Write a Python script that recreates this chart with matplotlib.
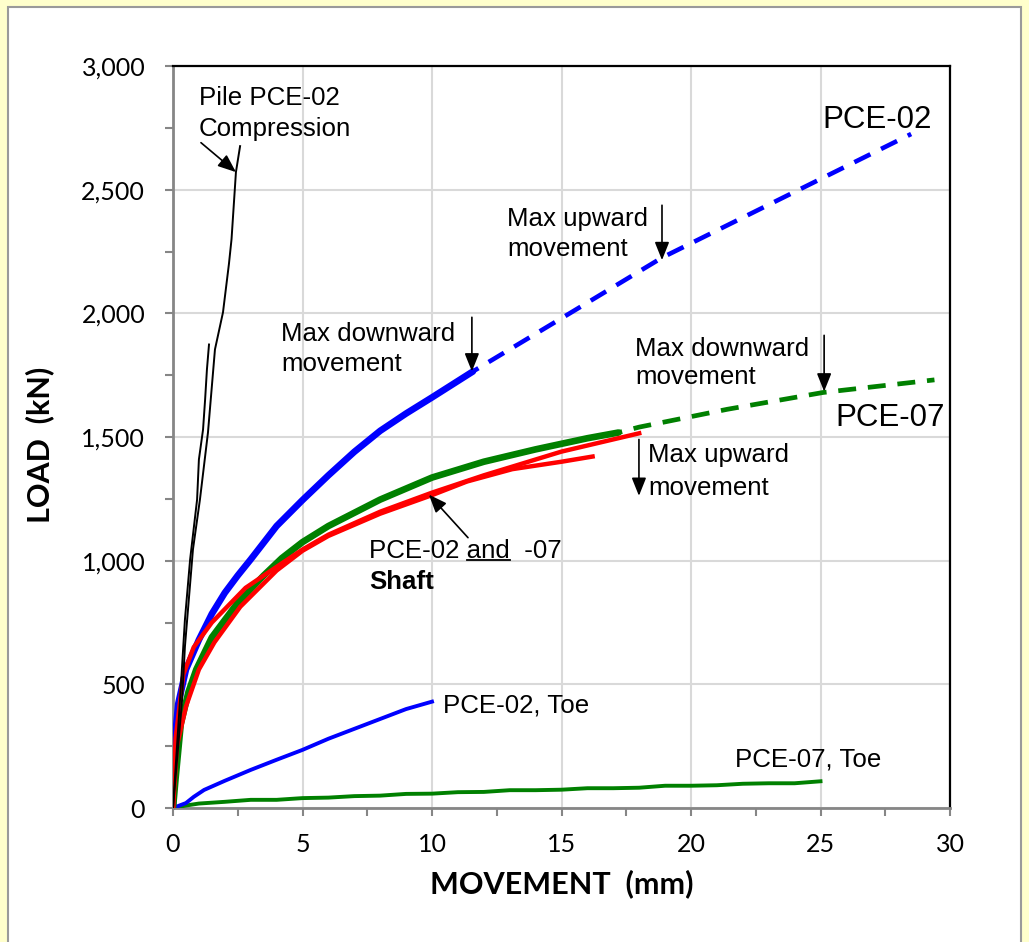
import matplotlib
matplotlib.use("Agg")
import matplotlib.pyplot as plt
from matplotlib.patches import Rectangle
from matplotlib.lines import Line2D
from matplotlib.ticker import MultipleLocator, FuncFormatter

# ---- measured load-movement data (movement in mm, load in kN) ----
# Pile PCE-02 compression test: two traces
comp_a_mm = [0, 0.35, 0.46, 0.77, 1.04, 1.35, 1.62, 1.93, 2.16, 2.26, 2.43, 2.59]
comp_a_kn = [0, 437, 652, 1045, 1247, 1518, 1854, 2004, 2200, 2300, 2571, 2676]
comp_b_mm = [0, 0.27, 0.46, 0.66, 0.93, 1.0, 1.16, 1.24, 1.31, 1.39]
comp_b_kn = [0, 437, 761, 1004, 1247, 1409, 1530, 1652, 1773, 1874]

# PCE-02 shaft (measured part, then extrapolated part)
pce02_mm = [0, 0.05, 0.2, 0.5, 1.0, 1.5, 2.0, 2.5, 3.0, 4.0, 5.0, 6.0, 7.0, 8.0, 9.0, 10.0, 11.58]
pce02_kn = [0, 250, 420, 560, 680, 785, 870, 940, 1005, 1140, 1245, 1345, 1440, 1525, 1595, 1660, 1765]
pce02_ext_mm = [11.58, 15.0, 18.88, 25.0, 28.5]
pce02_ext_kn = [1765, 1980, 2225, 2543, 2725]

# PCE-07 shaft (measured part, then extrapolated part)
pce07_mm = [0, 0.1, 0.3, 0.6, 0.9, 1.5, 2.5, 3.5, 4.2, 5.0, 6.0, 8.0, 10.0, 12.0, 14.0, 16.0, 17.2]
pce07_kn = [0, 120, 340, 470, 560, 690, 830, 940, 1010, 1075, 1140, 1247, 1336, 1400, 1450, 1495, 1518]
pce07_ext_mm = [17.2, 18.0, 21.4, 25.1, 29.4]
pce07_ext_kn = [1518, 1540, 1612, 1680, 1731]

# Shaft traces for PCE-02 and -07 (red)
shaft_a_mm = [0, 0.1, 0.4, 0.8, 1.5, 2.8, 4.0, 5.0, 6.0, 8.0, 10.0, 12.0, 15.0, 18.0]
shaft_a_kn = [0, 280, 540, 650, 750, 890, 975, 1045, 1105, 1198, 1275, 1345, 1441, 1515]
shaft_b_mm = [0, 0.15, 0.5, 1.0, 1.6, 2.6, 4.0, 5.0, 6.0, 8.0, 10.0, 11.35, 13.1, 15.0, 16.2]
shaft_b_kn = [0, 250, 410, 560, 670, 814, 960, 1040, 1100, 1190, 1265, 1320, 1370, 1400, 1421]

# Toe responses
toe02_mm = [0, 0.5, 0.8, 1.2, 2, 3, 4, 5, 6, 7, 8, 9, 10]
toe02_kn = [0, 20, 45, 73, 110, 154, 195, 235, 280, 320, 360, 400, 430]
toe07_mm = [0, 0.5, 1, 2, 3, 4, 5, 6, 7, 8, 9, 10, 11, 12, 13, 14, 15, 16, 17, 18,
            19, 20, 21, 22, 23, 24, 25]
toe07_kn = [0, 10, 18, 25, 33, 33, 40, 42, 48, 50, 57, 58, 64, 65, 72, 72, 74, 80, 80, 82,
            90, 90, 92, 98, 100, 100, 108]

x_ticks = [0, 5, 10, 15, 20, 25, 30]
y_ticks = [0, 500, 1000, 1500, 2000, 2500, 3000]

W, H = 1029, 942
fig = plt.figure(figsize=(W / 100, H / 100), dpi=100, facecolor="#FFFFCC")

# white panel with grey frame
fig.add_artist(Rectangle((8 / W, -0.05), (1021 - 8) / W, (H - 7) / H + 0.05,
                         transform=fig.transFigure, facecolor="white",
                         edgecolor="#9A9A9A", lw=1.5, zorder=-5))

ax = fig.add_axes([173 / W, (H - 808) / H, (950 - 173) / W, (808 - 66) / H])
ax.set_xlim(0, 30)
ax.set_ylim(0, 3000)

BLUE, GREEN, RED = "#0000FF", "#008000", "#FF0000"

ax.plot(toe07_mm, toe07_kn, color=GREEN, lw=2.8, zorder=3)
ax.plot(toe02_mm, toe02_kn, color=BLUE, lw=2.8, zorder=3)
ax.plot(pce02_mm, pce02_kn, color=BLUE, lw=4.8, zorder=3, solid_capstyle="round",
        solid_joinstyle="round")
ax.plot(pce02_ext_mm, pce02_ext_kn, color=BLUE, lw=3.3, zorder=3,
        linestyle=(2.5, (3.9, 2.6)))
ax.plot(pce07_mm, pce07_kn, color=GREEN, lw=4.8, zorder=3, solid_capstyle="round",
        solid_joinstyle="round")
ax.plot(pce07_ext_mm, pce07_ext_kn, color=GREEN, lw=3.4, zorder=3,
        linestyle=(3.0, (3.8, 2.5)))
ax.plot(shaft_b_mm, shaft_b_kn, color=RED, lw=3.2, zorder=4, solid_joinstyle="round")
ax.plot(shaft_a_mm, shaft_a_kn, color=RED, lw=3.2, zorder=4, solid_joinstyle="round")
ax.plot(comp_a_mm, comp_a_kn, color="black", lw=1.4, zorder=5)
ax.plot(comp_b_mm, comp_b_kn, color="black", lw=1.4, zorder=5)

# axes styling
ax.xaxis.set_minor_locator(MultipleLocator(2.5))
ax.yaxis.set_minor_locator(MultipleLocator(250))
ax.set_xticks(x_ticks)
ax.set_yticks(y_ticks)
ax.yaxis.set_major_formatter(FuncFormatter(lambda v, p: f"{int(v):,}"))
ax.grid(True, which="major", color="#D9D9D9", lw=1.5, zorder=0)
ax.set_axisbelow(True)
for side in ("left", "bottom"):
    ax.spines[side].set_color("#868686")
    ax.spines[side].set_linewidth(2.0)
for side in ("top", "right"):
    ax.spines[side].set_color("black")
    ax.spines[side].set_linewidth(1.6)
ax.tick_params(which="both", direction="out", length=6, width=1.5, color="#868686")
ax.tick_params(which="major", labelsize=18, labelcolor="black")
ax.tick_params(axis="x", which="major", pad=12)
ax.tick_params(axis="y", which="major", pad=14)
for lab in ax.get_xticklabels() + ax.get_yticklabels():
    lab.set_family("Lato")

fig.text(562 / W, 1 - 884 / H, "MOVEMENT  (mm)", ha="center", va="center",
         family="Lato", weight="bold", fontsize=22)
fig.text(40 / W, 1 - 445 / H, "LOAD  (kN)", ha="center", va="center",
         rotation=90, family="Lato", weight="bold", fontsize=22)

# ---- annotations ----
TXT = dict(family="Liberation Sans", fontsize=18.6, color="black", va="baseline", zorder=6)
BIG = dict(family="Liberation Sans", fontsize=22.5, color="black", va="baseline", zorder=6)
ARROW = dict(arrowstyle="-|>,head_length=0.55,head_width=0.22", color="black",
             lw=1.2, shrinkA=0, shrinkB=0, mutation_scale=20)


def arrow(x0, y0, x1, y1):
    ax.annotate("", xy=(x1, y1), xytext=(x0, y0), arrowprops=ARROW, zorder=7)


ax.text(1.0, 2842, "Pile PCE-02", **TXT)
ax.text(1.0, 2717, "Compression", **TXT)
arrow(1.08, 2690, 2.43, 2571)

ax.text(4.17, 1887, "Max downward", **TXT)
ax.text(4.17, 1765, "movement", **TXT)
arrow(11.54, 1984, 11.54, 1765)

ax.text(12.9, 2352, "Max upward", **TXT)
ax.text(12.9, 2231, "movement", **TXT)
arrow(18.88, 2437, 18.88, 2215)

ax.text(25.06, 2749, "PCE-02", **BIG)

ax.text(17.84, 1826, "Max downward", **TXT)
ax.text(17.84, 1713, "movement", **TXT)
arrow(25.14, 1911, 25.14, 1684)

ax.text(25.56, 1543, "PCE-07", **BIG)

ax.text(18.34, 1397, "Max upward", **TXT)
ax.text(18.34, 1267, "movement", **TXT)
arrow(17.99, 1490, 17.99, 1262)

shaft_x, shaft_y = 7.57, 1012
ax.text(shaft_x, shaft_y, "PCE-02 and  -07", **TXT)
ax.text(shaft_x, 887, "Shaft", weight="bold", **TXT)
arrow(11.39, 1093, 9.88, 1267)

ax.text(10.42, 385, "PCE-02, Toe", **TXT)
ax.text(21.7, 166, "PCE-07, Toe", **TXT)

# underline under "and"
renderer = fig.canvas.get_renderer()
probe_full = ax.text(shaft_x, shaft_y, "PCE-02 and", **TXT)
probe_and = ax.text(shaft_x, shaft_y, "and", **TXT)
bb_full = probe_full.get_window_extent(renderer)
bb_and = probe_and.get_window_extent(renderer)
probe_full.remove()
probe_and.remove()
inv = ax.transData.inverted()
ux1 = inv.transform((bb_full.x1, 0))[0]
ux0 = inv.transform((bb_full.x1 - bb_and.width, 0))[0]
ax.add_line(Line2D([ux0, ux1], [1003, 1003], color="black", lw=1.3, zorder=6))

fig.savefig("out.png", dpi=100, facecolor=fig.get_facecolor())
